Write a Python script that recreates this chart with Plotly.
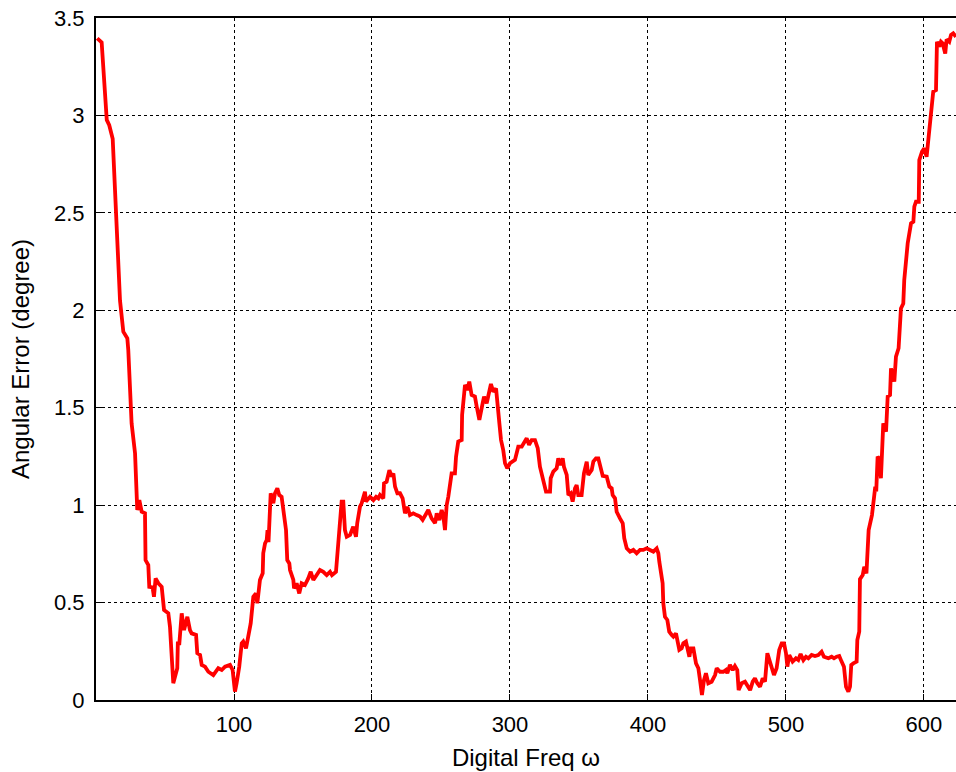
import plotly.graph_objects as go

freq = [0.9, 4.1, 7.8, 9.6, 12.1, 17.4, 19.8, 22.7, 23.4, 25.8, 28.3, 29.9, 31.4, 33.1, 35.5, 35.9,
        37.9, 38.6, 41.0, 42.0, 43.2, 45.2, 47.6, 49.3, 52.4, 53.6, 56.0, 58.9, 59.3, 60.4, 62.1,
        63.8, 66.2, 68.1, 69.3, 72.5, 73.4, 75.4, 76.6, 79.0, 81.4, 85.0, 88.6, 91.1, 93.5, 97.1,
        99.0, 100.7, 101.9, 103.8, 105.6, 106.7, 108.7, 110.4, 112.1, 114.0, 115.9, 116.9, 118.8,
        120.8, 121.2, 122.5, 123.7, 124.3, 125.0, 126.6, 128.5, 129.7, 131.4, 132.8, 134.5, 137.7,
        138.6, 140.1, 140.6, 143.0, 143.5, 145.4, 147.3, 149.0, 151.4, 153.8, 155.6, 157.5, 159.9,
        162.3, 164.7, 167.2, 169.6, 171.0, 173.9, 175.6, 176.8, 178.0, 179.2, 180.4, 181.7, 184.1,
        186.4, 188.4, 189.3, 191.3, 192.5, 194.9, 195.6, 198.6, 201.0, 203.0, 204.6, 205.8, 208.2,
        208.7, 210.6, 212.6, 214.3, 215.5, 216.7, 218.4, 220.3, 222.2, 223.9, 225.6, 227.5, 229.9,
        232.4, 234.8, 236.7, 238.4, 240.8, 243.2, 245.7, 246.9, 248.8, 250.5, 251.7, 252.9, 254.1,
        255.3, 257.7, 260.1, 260.9, 262.5, 265.0, 265.3, 266.2, 267.4, 269.1, 270.5, 272.2, 274.6,
        275.9, 277.8, 280.2, 281.2, 283.1, 285.0, 286.2, 287.9, 289.9, 292.3, 293.5, 295.1, 296.4,
        298.0, 300.0, 303.6, 306.0, 308.5, 310.4, 312.1, 313.8, 315.7, 318.1, 320.1, 321.7, 324.1,
        326.1, 329.0, 329.5, 331.4, 333.8, 335.0, 336.7, 338.2, 339.1, 341.1, 342.3, 344.0, 345.4,
        347.1, 348.3, 349.5, 351.9, 353.6, 355.6, 356.7, 359.2, 360.4, 362.3, 364.0, 365.2, 367.2,
        370.1, 372.0, 373.7, 374.4, 376.1, 377.3, 379.7, 381.7, 382.8, 384.6, 387.0, 389.4, 391.8,
        394.2, 396.6, 399.0, 401.4, 403.9, 406.3, 407.5, 408.2, 410.6, 411.1, 412.3, 414.0, 415.4,
        417.2, 418.4, 420.3, 421.3, 422.7, 424.4, 425.6, 427.5, 428.5, 430.0, 431.0, 432.9, 434.8,
        436.5, 437.7, 439.1, 440.6, 442.0, 443.7, 446.1, 448.6, 449.8, 452.2, 454.6, 456.5, 457.5,
        459.4, 461.4, 463.0, 464.7, 465.7, 467.9, 470.3, 472.0, 474.0, 475.9, 477.5, 479.2, 481.2,
        483.1, 484.8, 486.5, 487.9, 489.6, 491.3, 493.2, 495.1, 496.9, 498.6, 500.0, 501.0, 502.4,
        504.8, 507.2, 508.9, 510.6, 512.6, 514.5, 516.2, 518.6, 521.0, 523.4, 525.8, 527.5, 530.7,
        533.1, 534.8, 536.7, 538.6, 540.3, 542.0, 543.5, 545.2, 546.4, 547.3, 548.8, 551.2, 551.7,
        553.1, 553.6, 555.6, 556.7, 558.3, 559.9, 561.5, 562.3, 564.0, 564.7, 565.4, 566.4, 567.5,
        568.8, 570.5, 572.5, 573.7, 575.4, 576.1, 578.5, 579.7, 581.6, 583.3, 585.0, 585.7, 587.0,
        588.2, 590.6, 592.3, 593.0, 594.2, 596.2, 596.6, 598.6, 600.2, 601.9, 603.4, 605.0, 606.7,
        608.7, 609.4, 611.1, 612.3, 613.5, 615.4, 616.4, 618.3, 619.6, 621.2, 623.2]

angular_error = [3.396, 3.375, 2.977, 2.95, 2.88, 2.05, 1.89, 1.856, 1.796, 1.42, 1.266, 0.975, 1.026,
                 0.966, 0.958, 0.718, 0.693, 0.581, 0.578, 0.53, 0.624, 0.599, 0.581, 0.462, 0.445,
                 0.376, 0.086, 0.163, 0.291, 0.291, 0.445, 0.359, 0.427, 0.359, 0.342, 0.334, 0.24,
                 0.231, 0.18, 0.171, 0.145, 0.128, 0.163, 0.154, 0.171, 0.18, 0.154, 0.043, 0.086,
                 0.171, 0.291, 0.3, 0.265, 0.342, 0.393, 0.53, 0.547, 0.496, 0.616, 0.65, 0.753,
                 0.804, 0.821, 0.872, 0.81, 1.061, 1.01, 1.061, 1.086, 1.052, 1.043, 0.872, 0.718,
                 0.701, 0.667, 0.616, 0.573, 0.599, 0.547, 0.599, 0.59, 0.624, 0.658, 0.616, 0.641,
                 0.667, 0.658, 0.641, 0.658, 0.641, 0.658, 0.804, 0.958, 1.018, 1.018, 0.872, 0.838,
                 0.847, 0.889, 0.838, 0.907, 0.992, 1.009, 1.069, 1.018, 1.043, 1.026, 1.043, 1.035,
                 1.052, 1.035, 1.112, 1.12, 1.18, 1.146, 1.163, 1.095, 1.061, 1.061, 1.035, 0.958,
                 0.992, 0.949, 0.958, 0.949, 0.941, 0.924, 0.949, 0.975, 0.932, 0.907, 0.958, 0.924,
                 0.975, 0.941, 0.872, 1.0, 1.043, 1.163, 1.163, 1.249, 1.326, 1.334, 1.463, 1.531,
                 1.617, 1.591, 1.634, 1.565, 1.557, 1.505, 1.437, 1.523, 1.557, 1.523, 1.574, 1.622,
                 1.582, 1.599, 1.42, 1.334, 1.283, 1.215, 1.189, 1.215, 1.232, 1.3, 1.3, 1.326, 1.343,
                 1.309, 1.334, 1.334, 1.292, 1.197, 1.12, 1.069, 1.069, 1.138, 1.172, 1.189, 1.24,
                 1.206, 1.24, 1.197, 1.155, 1.052, 1.061, 1.018, 1.086, 1.103, 1.052, 1.052, 1.163,
                 1.223, 1.155, 1.18, 1.223, 1.24, 1.24, 1.206, 1.15, 1.146, 1.095, 1.086, 1.052,
                 1.035, 0.966, 0.932, 0.907, 0.83, 0.778, 0.761, 0.77, 0.753, 0.77, 0.77, 0.778, 0.77,
                 0.761, 0.778, 0.753, 0.71, 0.599, 0.496, 0.427, 0.411, 0.351, 0.334, 0.325, 0.342,
                 0.308, 0.257, 0.265, 0.291, 0.3, 0.257, 0.222, 0.265, 0.265, 0.188, 0.163, 0.103,
                 0.026, 0.103, 0.137, 0.086, 0.094, 0.128, 0.163, 0.145, 0.145, 0.154, 0.137, 0.18,
                 0.154, 0.174, 0.154, 0.051, 0.086, 0.094, 0.077, 0.051, 0.094, 0.111, 0.086, 0.068,
                 0.111, 0.094, 0.24, 0.205, 0.154, 0.128, 0.163, 0.257, 0.291, 0.291, 0.24, 0.171,
                 0.231, 0.197, 0.214, 0.205, 0.236, 0.205, 0.222, 0.214, 0.231, 0.226, 0.231, 0.248,
                 0.222, 0.214, 0.222, 0.214, 0.222, 0.226, 0.197, 0.171, 0.068, 0.043, 0.068, 0.18,
                 0.188, 0.197, 0.308, 0.351, 0.62, 0.641, 0.684, 0.65, 0.872, 0.92, 0.949, 1.052,
                 1.095, 1.07, 1.249, 1.24, 1.138, 1.42, 1.377, 1.557, 1.565, 1.702, 1.634, 1.762,
                 1.805, 2.009, 2.035, 2.155, 2.258, 2.344, 2.446, 2.455, 2.532, 2.557, 2.557, 2.771,
                 2.814, 2.831, 2.788, 2.883, 3.011, 3.122, 3.13, 3.378, 3.353, 3.378, 3.37, 3.318,
                 3.39, 3.378, 3.413, 3.421, 3.404]

x_ticks = [100, 200, 300, 400, 500, 600]
y_ticks = [0, 0.5, 1, 1.5, 2, 2.5, 3, 3.5]
y_tick_labels = ["0", "0.5", "1", "1.5", "2", "2.5", "3", "3.5"]

FONT = "Liberation Sans, Arial, sans-serif"

fig = go.Figure()
fig.add_trace(go.Scatter(x=freq, y=angular_error, mode="lines",
                         line=dict(color="#ff0000", width=3.8), showlegend=False))

fig.update_layout(
    width=956, height=772,
    margin=dict(l=96, r=0, t=18, b=72),
    paper_bgcolor="white", plot_bgcolor="white",
    font=dict(family=FONT, size=22, color="black"),
)
fig.update_xaxes(
    range=[0, 623.2], tickvals=x_ticks, ticks="inside", ticklen=6, tickwidth=1,
    tickcolor="black", showline=True, linecolor="black", linewidth=2, mirror=True,
    showgrid=True, gridcolor="black", gridwidth=1, griddash="dot", zeroline=False,
    tickfont=dict(size=22), ticklabelstandoff=4, automargin=False,
    title=dict(text="Digital Freq ω", font=dict(size=24), standoff=13),
)
fig.update_yaxes(
    range=[0, 3.5], tickvals=y_ticks, ticktext=y_tick_labels, ticks="inside", ticklen=6,
    tickwidth=1, tickcolor="black", showline=True, linecolor="black", linewidth=2,
    mirror=False, showgrid=True, gridcolor="black", gridwidth=1, griddash="dot",
    zeroline=False, tickfont=dict(size=22), ticklabelstandoff=5, automargin=False,
    title=dict(text="Angular Error (degree)", font=dict(size=24), standoff=18),
)

fig.write_html("out.html")
